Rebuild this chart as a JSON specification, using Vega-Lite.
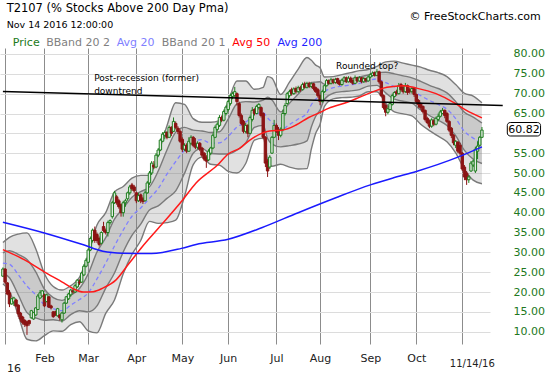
{
"$schema":"https://vega.github.io/schema/vega-lite/v6.json",
"width":490,"height":296,
"autosize":{"type":"none"},
"padding":{"left":0,"top":48,"right":60,"bottom":31},
"background":"white",
"config":{"font":"DejaVu Sans","view":{"stroke":null}},
"resolve":{"axis":{"x":"independent","y":"independent"}},
"datasets":{
"candles":[
{"i":0,"o":24.0,"h":26.2,"l":23.8,"c":25.8},{"i":1,"o":25.8,"h":26.0,"l":22.0,"c":22.5},{"i":2,"o":22.3,"h":22.5,"l":19.2,"c":19.5},{"i":3,"o":19.8,"h":20.5,"l":16.2,"c":17.0},{"i":4,"o":17.0,"h":18.5,"l":16.8,"c":18.3},{"i":5,"o":17.5,"h":18.8,"l":16.5,"c":18.5},{"i":6,"o":18.0,"h":18.3,"l":16.2,"c":16.5},{"i":7,"o":16.7,"h":16.9,"l":13.7,"c":14.5},{"i":8,"o":14.7,"h":15.0,"l":12.5,"c":13.2},{"i":9,"o":13.7,"h":14.0,"l":11.8,"c":12.3},
{"i":10,"o":12.8,"h":13.2,"l":11.2,"c":11.8},{"i":11,"o":12.5,"h":12.8,"l":9.2,"c":11.5},{"i":12,"o":12.8,"h":13.0,"l":11.5,"c":12.0},{"i":13,"o":13.5,"h":15.5,"l":13.3,"c":15.3},{"i":14,"o":13.2,"h":15.0,"l":13.0,"c":14.8},{"i":15,"o":14.2,"h":16.2,"l":14.0,"c":16.0},{"i":16,"o":15.6,"h":19.5,"l":15.5,"c":19.0},{"i":17,"o":18.5,"h":20.5,"l":18.3,"c":19.8},{"i":18,"o":19.0,"h":20.5,"l":18.8,"c":20.3},{"i":19,"o":19.3,"h":19.5,"l":16.2,"c":16.5},
{"i":20,"o":17.6,"h":19.6,"l":17.4,"c":19.3},{"i":21,"o":18.8,"h":19.0,"l":16.0,"c":16.2},{"i":22,"o":16.5,"h":16.8,"l":15.6,"c":16.0},{"i":23,"o":15.0,"h":15.2,"l":13.5,"c":13.8},{"i":24,"o":15.0,"h":15.3,"l":14.0,"c":14.2},{"i":25,"o":14.0,"h":16.0,"l":13.8,"c":15.8},{"i":26,"o":14.2,"h":14.5,"l":12.8,"c":13.5},{"i":27,"o":13.0,"h":15.0,"l":12.3,"c":14.7},{"i":28,"o":14.7,"h":17.5,"l":14.5,"c":17.2},{"i":29,"o":17.2,"h":19.0,"l":17.0,"c":18.8},
{"i":30,"o":18.3,"h":19.8,"l":18.0,"c":19.5},{"i":31,"o":19.3,"h":20.8,"l":18.8,"c":20.5},{"i":32,"o":20.3,"h":20.8,"l":19.6,"c":20.0},{"i":33,"o":20.0,"h":22.0,"l":19.8,"c":21.6},{"i":34,"o":21.3,"h":23.2,"l":21.0,"c":23.0},{"i":35,"o":22.5,"h":23.2,"l":21.8,"c":22.3},{"i":36,"o":22.5,"h":25.0,"l":22.3,"c":24.8},{"i":37,"o":24.3,"h":27.0,"l":24.0,"c":26.5},{"i":38,"o":26.5,"h":28.5,"l":26.2,"c":28.0},{"i":39,"o":27.5,"h":31.0,"l":27.3,"c":30.6},
{"i":40,"o":30.6,"h":34.0,"l":30.3,"c":33.5},{"i":41,"o":33.0,"h":36.0,"l":32.5,"c":35.6},{"i":42,"o":35.6,"h":36.5,"l":32.4,"c":33.0},{"i":43,"o":34.5,"h":35.0,"l":32.4,"c":33.0},{"i":44,"o":33.5,"h":34.0,"l":31.5,"c":32.0},{"i":45,"o":32.3,"h":35.3,"l":32.0,"c":35.0},{"i":46,"o":36.5,"h":37.7,"l":35.0,"c":35.5},{"i":47,"o":35.5,"h":36.0,"l":34.5,"c":35.0},{"i":48,"o":35.0,"h":38.0,"l":34.0,"c":37.5},{"i":49,"o":37.5,"h":38.3,"l":37.0,"c":38.0},
{"i":50,"o":39.0,"h":43.0,"l":38.5,"c":42.5},{"i":51,"o":42.5,"h":45.5,"l":42.2,"c":45.0},{"i":52,"o":44.0,"h":44.5,"l":42.0,"c":42.5},{"i":53,"o":43.0,"h":43.5,"l":41.0,"c":41.5},{"i":54,"o":42.0,"h":42.3,"l":39.0,"c":40.0},{"i":55,"o":40.0,"h":43.0,"l":39.0,"c":42.5},{"i":56,"o":42.5,"h":43.5,"l":41.5,"c":43.0},{"i":57,"o":43.5,"h":45.3,"l":43.0,"c":45.0},{"i":58,"o":45.0,"h":47.0,"l":44.5,"c":46.5},{"i":59,"o":47.0,"h":47.5,"l":45.5,"c":46.0},
{"i":60,"o":46.5,"h":47.0,"l":45.0,"c":45.5},{"i":61,"o":45.0,"h":45.3,"l":42.4,"c":43.0},{"i":62,"o":43.0,"h":45.0,"l":42.7,"c":44.3},{"i":63,"o":44.5,"h":44.8,"l":42.4,"c":43.0},{"i":64,"o":43.5,"h":44.0,"l":42.2,"c":42.8},{"i":65,"o":43.0,"h":45.5,"l":42.8,"c":45.0},{"i":66,"o":45.0,"h":48.0,"l":44.8,"c":47.5},{"i":67,"o":47.5,"h":50.5,"l":47.0,"c":50.0},{"i":68,"o":50.0,"h":53.0,"l":49.5,"c":52.5},{"i":69,"o":52.0,"h":53.0,"l":51.0,"c":51.5},
{"i":70,"o":51.5,"h":55.0,"l":51.2,"c":54.5},{"i":71,"o":54.5,"h":56.3,"l":54.0,"c":55.8},{"i":72,"o":55.8,"h":58.7,"l":55.5,"c":58.3},{"i":73,"o":58.0,"h":60.3,"l":57.8,"c":59.8},{"i":74,"o":59.5,"h":60.7,"l":58.5,"c":60.2},{"i":75,"o":60.2,"h":60.6,"l":58.5,"c":59.0},{"i":76,"o":59.0,"h":62.0,"l":58.8,"c":61.5},{"i":77,"o":61.5,"h":61.8,"l":59.3,"c":60.0},{"i":78,"o":60.5,"h":64.0,"l":60.3,"c":63.0},{"i":79,"o":62.5,"h":63.0,"l":61.0,"c":61.5},
{"i":80,"o":61.3,"h":61.8,"l":59.8,"c":60.5},{"i":81,"o":60.5,"h":61.0,"l":57.6,"c":58.0},{"i":82,"o":58.5,"h":59.0,"l":55.3,"c":56.0},{"i":83,"o":56.0,"h":57.5,"l":55.5,"c":57.0},{"i":84,"o":57.0,"h":57.5,"l":55.0,"c":55.5},{"i":85,"o":55.5,"h":59.0,"l":55.3,"c":58.0},{"i":86,"o":57.5,"h":59.5,"l":57.0,"c":59.0},{"i":87,"o":59.0,"h":59.3,"l":56.5,"c":57.0},{"i":88,"o":57.5,"h":58.8,"l":56.0,"c":56.5},{"i":89,"o":56.5,"h":58.0,"l":56.0,"c":57.5},
{"i":90,"o":57.5,"h":57.8,"l":55.5,"c":56.0},{"i":91,"o":56.3,"h":56.6,"l":54.0,"c":54.5},{"i":92,"o":55.0,"h":55.3,"l":53.0,"c":53.5},{"i":93,"o":54.0,"h":54.5,"l":51.3,"c":53.0},{"i":94,"o":53.3,"h":56.0,"l":53.0,"c":55.5},{"i":95,"o":55.0,"h":56.6,"l":54.5,"c":56.3},{"i":96,"o":56.3,"h":60.0,"l":56.0,"c":59.5},{"i":97,"o":59.0,"h":62.0,"l":58.8,"c":61.5},{"i":98,"o":61.0,"h":62.8,"l":60.5,"c":62.3},{"i":99,"o":62.0,"h":64.6,"l":61.6,"c":64.0},
{"i":100,"o":64.0,"h":64.5,"l":62.8,"c":63.3},{"i":101,"o":63.3,"h":66.0,"l":63.0,"c":65.5},{"i":102,"o":65.0,"h":67.0,"l":64.5,"c":66.6},{"i":103,"o":66.0,"h":68.4,"l":65.5,"c":68.0},{"i":104,"o":67.5,"h":70.0,"l":67.0,"c":69.5},{"i":105,"o":69.3,"h":70.5,"l":68.6,"c":70.0},{"i":106,"o":69.5,"h":71.7,"l":69.0,"c":70.5},{"i":107,"o":70.0,"h":70.3,"l":67.0,"c":68.0},{"i":108,"o":67.5,"h":68.0,"l":64.0,"c":64.5},{"i":109,"o":64.5,"h":65.0,"l":62.0,"c":62.5},
{"i":110,"o":63.0,"h":63.4,"l":60.0,"c":60.5},{"i":111,"o":60.5,"h":62.6,"l":60.0,"c":62.0},{"i":112,"o":62.0,"h":62.3,"l":59.0,"c":60.0},{"i":113,"o":60.0,"h":64.5,"l":59.8,"c":64.0},{"i":114,"o":63.5,"h":66.6,"l":63.0,"c":65.8},{"i":115,"o":66.0,"h":66.3,"l":64.5,"c":65.0},{"i":116,"o":65.0,"h":67.2,"l":64.8,"c":66.8},{"i":117,"o":66.5,"h":67.6,"l":66.0,"c":67.3},{"i":118,"o":66.5,"h":66.8,"l":64.0,"c":64.5},{"i":119,"o":65.0,"h":65.3,"l":58.5,"c":59.0},
{"i":120,"o":59.0,"h":59.3,"l":51.5,"c":52.5},{"i":121,"o":53.0,"h":53.5,"l":49.0,"c":50.5},{"i":122,"o":51.5,"h":54.5,"l":51.0,"c":54.0},{"i":123,"o":55.0,"h":59.3,"l":54.8,"c":59.0},{"i":124,"o":59.0,"h":63.4,"l":58.8,"c":62.0},{"i":125,"o":62.0,"h":62.5,"l":60.0,"c":60.5},{"i":126,"o":61.0,"h":61.6,"l":58.3,"c":59.5},{"i":127,"o":59.5,"h":61.5,"l":59.0,"c":61.0},{"i":128,"o":61.0,"h":66.0,"l":60.5,"c":65.0},{"i":129,"o":65.0,"h":67.6,"l":64.5,"c":67.0},
{"i":130,"o":67.5,"h":70.4,"l":67.2,"c":70.0},{"i":131,"o":69.5,"h":71.0,"l":69.0,"c":70.5},{"i":132,"o":71.0,"h":71.5,"l":69.5,"c":70.0},{"i":133,"o":70.0,"h":71.6,"l":69.7,"c":71.2},{"i":134,"o":71.3,"h":71.8,"l":70.0,"c":70.5},{"i":135,"o":70.5,"h":72.0,"l":70.2,"c":71.5},{"i":136,"o":71.5,"h":72.0,"l":70.5,"c":71.0},{"i":137,"o":71.0,"h":72.8,"l":70.8,"c":72.3},{"i":138,"o":72.5,"h":73.0,"l":71.3,"c":71.6},{"i":139,"o":71.6,"h":73.0,"l":71.3,"c":72.6},
{"i":140,"o":72.6,"h":73.0,"l":71.4,"c":71.8},{"i":141,"o":71.8,"h":72.8,"l":71.4,"c":72.5},{"i":142,"o":72.5,"h":72.7,"l":70.8,"c":71.3},{"i":143,"o":71.5,"h":71.8,"l":70.2,"c":70.5},{"i":144,"o":71.0,"h":71.4,"l":69.0,"c":69.5},{"i":145,"o":69.5,"h":70.0,"l":67.1,"c":68.0},{"i":146,"o":68.0,"h":71.0,"l":67.8,"c":70.5},{"i":147,"o":70.5,"h":72.3,"l":70.2,"c":72.0},{"i":148,"o":72.0,"h":73.7,"l":71.8,"c":73.3},{"i":149,"o":73.3,"h":73.6,"l":72.2,"c":72.6},
{"i":150,"o":72.6,"h":74.0,"l":72.3,"c":73.5},{"i":151,"o":73.5,"h":73.8,"l":72.4,"c":72.8},{"i":152,"o":72.8,"h":74.0,"l":72.5,"c":73.6},{"i":153,"o":73.8,"h":74.0,"l":72.4,"c":72.7},{"i":154,"o":73.0,"h":73.4,"l":72.0,"c":72.3},{"i":155,"o":72.3,"h":73.8,"l":72.0,"c":73.4},{"i":156,"o":73.2,"h":74.4,"l":72.9,"c":74.0},{"i":157,"o":74.0,"h":74.3,"l":72.7,"c":73.0},{"i":158,"o":73.0,"h":74.4,"l":72.8,"c":73.9},{"i":159,"o":73.9,"h":74.3,"l":72.7,"c":73.0},
{"i":160,"o":73.3,"h":73.6,"l":72.2,"c":72.6},{"i":161,"o":72.6,"h":74.6,"l":72.4,"c":74.0},{"i":162,"o":74.0,"h":74.2,"l":72.8,"c":73.2},{"i":163,"o":73.2,"h":74.4,"l":73.0,"c":74.0},{"i":164,"o":74.0,"h":74.2,"l":72.6,"c":73.0},{"i":165,"o":73.0,"h":74.2,"l":72.7,"c":73.8},{"i":166,"o":73.8,"h":74.0,"l":72.8,"c":73.2},{"i":167,"o":73.2,"h":74.5,"l":73.0,"c":74.2},{"i":168,"o":74.2,"h":75.2,"l":73.9,"c":74.8},{"i":169,"o":74.6,"h":75.6,"l":74.3,"c":75.2},
{"i":170,"o":75.3,"h":75.6,"l":74.3,"c":74.6},{"i":171,"o":74.6,"h":76.2,"l":74.4,"c":75.5},{"i":172,"o":75.5,"h":75.8,"l":72.5,"c":73.0},{"i":173,"o":73.0,"h":73.3,"l":69.2,"c":69.5},{"i":174,"o":69.5,"h":69.8,"l":66.0,"c":66.5},{"i":175,"o":67.0,"h":67.5,"l":64.3,"c":65.3},{"i":176,"o":65.3,"h":66.8,"l":64.8,"c":66.2},{"i":177,"o":66.0,"h":68.0,"l":65.8,"c":67.5},{"i":178,"o":67.3,"h":70.0,"l":67.0,"c":69.5},{"i":179,"o":69.3,"h":70.6,"l":69.0,"c":70.3},
{"i":180,"o":70.5,"h":71.0,"l":69.5,"c":70.0},{"i":181,"o":70.0,"h":72.7,"l":69.8,"c":72.0},{"i":182,"o":72.3,"h":72.7,"l":70.5,"c":71.0},{"i":183,"o":71.5,"h":72.0,"l":70.0,"c":70.5},{"i":184,"o":70.5,"h":72.7,"l":70.2,"c":72.0},{"i":185,"o":72.0,"h":72.3,"l":69.7,"c":70.3},{"i":186,"o":71.0,"h":71.5,"l":70.0,"c":70.5},{"i":187,"o":70.5,"h":71.7,"l":70.0,"c":71.3},{"i":188,"o":71.3,"h":71.5,"l":69.2,"c":69.8},{"i":189,"o":69.8,"h":70.0,"l":67.5,"c":68.0},
{"i":190,"o":68.3,"h":68.6,"l":66.5,"c":67.2},{"i":191,"o":67.5,"h":67.8,"l":66.0,"c":66.5},{"i":192,"o":66.8,"h":67.0,"l":65.0,"c":65.5},{"i":193,"o":65.8,"h":66.0,"l":63.0,"c":63.5},{"i":194,"o":63.8,"h":64.2,"l":62.3,"c":62.7},{"i":195,"o":63.0,"h":63.5,"l":61.3,"c":61.8},{"i":196,"o":61.8,"h":63.8,"l":61.4,"c":63.4},{"i":197,"o":63.2,"h":63.6,"l":61.8,"c":62.3},{"i":198,"o":62.3,"h":64.2,"l":62.0,"c":63.8},{"i":199,"o":63.5,"h":65.0,"l":63.0,"c":64.3},
{"i":200,"o":64.3,"h":65.9,"l":64.0,"c":65.4},{"i":201,"o":65.0,"h":66.4,"l":64.8,"c":65.8},{"i":202,"o":65.8,"h":66.0,"l":63.8,"c":64.5},{"i":203,"o":65.0,"h":65.4,"l":62.6,"c":63.0},{"i":204,"o":63.0,"h":63.3,"l":60.3,"c":60.8},{"i":205,"o":61.3,"h":61.6,"l":58.8,"c":59.5},{"i":206,"o":59.5,"h":59.8,"l":57.0,"c":57.6},{"i":207,"o":57.0,"h":58.3,"l":56.3,"c":58.0},{"i":208,"o":57.8,"h":58.0,"l":55.0,"c":55.5},{"i":209,"o":57.0,"h":57.6,"l":54.3,"c":55.0},
{"i":210,"o":55.0,"h":55.3,"l":50.5,"c":51.0},{"i":211,"o":51.5,"h":52.0,"l":48.2,"c":49.0},{"i":212,"o":50.0,"h":50.5,"l":47.0,"c":48.3},{"i":213,"o":48.3,"h":49.5,"l":47.5,"c":49.0},{"i":214,"o":50.5,"h":53.0,"l":50.3,"c":52.5},{"i":215,"o":52.0,"h":53.3,"l":51.5,"c":53.0},{"i":216,"o":50.5,"h":56.6,"l":50.0,"c":56.0},{"i":217,"o":55.5,"h":58.0,"l":53.5,"c":56.8},{"i":218,"o":57.0,"h":59.3,"l":56.6,"c":59.0},{"i":219,"o":59.0,"h":61.6,"l":58.8,"c":60.82}
],
"bands":[
{"i":0,"u2":32.5,"u1":29.9,"m":27.3,"l1":24.7,"l2":22.1},{"i":3,"u2":33.8,"u1":30.4,"m":27.0,"l1":23.6,"l2":20.2},{"i":7,"u2":34.6,"u1":29.5,"m":24.4,"l1":19.3,"l2":14.2},{"i":11,"u2":34.9,"u1":28.2,"m":21.5,"l1":14.8,"l2":8.1},{"i":15,"u2":30.9,"u1":25.1,"m":19.3,"l1":13.5,"l2":7.7},{"i":19,"u2":24.6,"u1":20.7,"m":16.8,"l1":12.9,"l2":9.0},{"i":23,"u2":21.4,"u1":18.6,"m":15.8,"l1":13.0,"l2":10.2},{"i":27,"u2":20.5,"u1":17.9,"m":15.3,"l1":12.7,"l2":10.1},{"i":31,"u2":21.6,"u1":19.2,"m":16.7,"l1":14.3,"l2":11.8},{"i":35,"u2":23.7,"u1":20.9,"m":18.1,"l1":15.3,"l2":12.5},
{"i":39,"u2":29.4,"u1":24.6,"m":19.8,"l1":15.0,"l2":10.2},{"i":43,"u2":36.9,"u1":30.1,"m":23.3,"l1":16.5,"l2":9.7},{"i":47,"u2":40.0,"u1":33.7,"m":27.3,"l1":21.0,"l2":14.6},{"i":51,"u2":45.2,"u1":38.4,"m":31.6,"l1":24.8,"l2":18.0},{"i":55,"u2":46.6,"u1":41.1,"m":35.6,"l1":30.1,"l2":24.6},{"i":59,"u2":48.7,"u1":43.9,"m":39.1,"l1":34.3,"l2":29.5},{"i":63,"u2":49.4,"u1":45.3,"m":41.2,"l1":37.1,"l2":33.0},{"i":67,"u2":49.4,"u1":46.5,"m":43.6,"l1":40.7,"l2":37.8},{"i":71,"u2":54.9,"u1":50.5,"m":46.1,"l1":41.7,"l2":37.3},{"i":75,"u2":61.9,"u1":55.8,"m":49.7,"l1":43.6,"l2":37.5},
{"i":79,"u2":67.7,"u1":60.3,"m":52.9,"l1":45.5,"l2":38.1},{"i":83,"u2":67.3,"u1":61.5,"m":55.7,"l1":49.9,"l2":44.1},{"i":87,"u2":63.7,"u1":60.8,"m":57.9,"l1":55.0,"l2":52.1},{"i":91,"u2":62.8,"u1":60.6,"m":58.4,"l1":56.2,"l2":54.0},{"i":95,"u2":62.8,"u1":60.2,"m":57.5,"l1":54.9,"l2":52.2},{"i":99,"u2":63.2,"u1":60.4,"m":57.6,"l1":54.8,"l2":52.0},{"i":103,"u2":68.0,"u1":63.6,"m":59.2,"l1":54.8,"l2":50.4},{"i":107,"u2":73.2,"u1":67.4,"m":61.6,"l1":55.8,"l2":50.0},{"i":111,"u2":73.2,"u1":68.0,"m":62.8,"l1":57.6,"l2":52.4},{"i":115,"u2":71.1,"u1":67.9,"m":64.7,"l1":61.5,"l2":58.3},
{"i":119,"u2":71.6,"u1":68.4,"m":65.2,"l1":62.0,"l2":58.8},{"i":121,"u2":74.3,"u1":69.1,"m":63.9,"l1":58.7,"l2":53.5},{"i":123,"u2":73.9,"u1":68.4,"m":62.8,"l1":57.3,"l2":51.7},{"i":127,"u2":69.8,"u1":65.4,"m":61.0,"l1":56.6,"l2":52.2},{"i":131,"u2":72.9,"u1":67.6,"m":62.2,"l1":56.9,"l2":51.5},{"i":135,"u2":76.2,"u1":69.9,"m":63.6,"l1":57.3,"l2":51.0},{"i":139,"u2":79.1,"u1":72.1,"m":65.1,"l1":58.1,"l2":51.1},{"i":141,"u2":78.4,"u1":72.8,"m":67.2,"l1":61.6,"l2":56.0},{"i":143,"u2":77.2,"u1":72.9,"m":68.6,"l1":64.3,"l2":60.0},{"i":145,"u2":76.5,"u1":73.0,"m":69.4,"l1":65.9,"l2":62.3},
{"i":147,"u2":74.2,"u1":72.4,"m":70.5,"l1":68.6,"l2":66.8},{"i":151,"u2":74.3,"u1":72.9,"m":71.5,"l1":70.1,"l2":68.7},{"i":155,"u2":74.8,"u1":73.4,"m":71.9,"l1":70.5,"l2":69.0},{"i":159,"u2":75.3,"u1":73.8,"m":72.2,"l1":70.7,"l2":69.1},{"i":163,"u2":75.8,"u1":74.2,"m":72.6,"l1":71.0,"l2":69.4},{"i":167,"u2":76.1,"u1":74.7,"m":73.3,"l1":71.9,"l2":70.5},{"i":171,"u2":76.9,"u1":75.3,"m":73.7,"l1":72.1,"l2":70.5},{"i":175,"u2":78.0,"u1":75.4,"m":72.8,"l1":70.2,"l2":67.6},{"i":179,"u2":78.2,"u1":75.0,"m":71.8,"l1":68.6,"l2":65.4},{"i":183,"u2":77.7,"u1":74.5,"m":71.3,"l1":68.1,"l2":64.9},
{"i":187,"u2":77.2,"u1":74.0,"m":70.8,"l1":67.6,"l2":64.4},{"i":191,"u2":76.7,"u1":73.1,"m":69.5,"l1":65.9,"l2":62.3},{"i":195,"u2":75.9,"u1":72.1,"m":68.3,"l1":64.5,"l2":60.7},{"i":199,"u2":75.3,"u1":71.3,"m":67.3,"l1":63.3,"l2":59.3},{"i":203,"u2":74.3,"u1":70.2,"m":66.1,"l1":62.0,"l2":57.9},{"i":207,"u2":72.3,"u1":68.0,"m":63.7,"l1":59.4,"l2":55.1},{"i":211,"u2":70.1,"u1":65.3,"m":60.5,"l1":55.7,"l2":50.9},{"i":215,"u2":69.4,"u1":64.1,"m":58.8,"l1":53.5,"l2":48.2},{"i":219,"u2":67.7,"u1":62.6,"m":57.5,"l1":52.4,"l2":47.3}
],
"ma50":[
{"i":0,"v":30.7},{"i":9.9,"v":28.1},{"i":18.9,"v":25.1},{"i":27.8,"v":22.3},{"i":32.3,"v":20.8},{"i":36.8,"v":20.0},{"i":41.3,"v":20.1},{"i":45.7,"v":21.0},{"i":51.6,"v":23.0},{"i":57.8,"v":27.3},{"i":63.7,"v":31.4},{"i":72.6,"v":37.0},{"i":81.6,"v":42.8},{"i":88.3,"v":47.5},{"i":98.1,"v":52.0},{"i":103,"v":54.8},{"i":108.4,"v":56.3},{"i":112.9,"v":58.3},{"i":118.3,"v":60.0},{"i":121.9,"v":60.6},{"i":127.7,"v":60.8},{"i":134,"v":62.1},{"i":139.8,"v":64.0},{"i":144.3,"v":65.1},{"i":148.8,"v":66.3},{"i":157.7,"v":67.9},{"i":163.5,"v":69.2},{"i":171.2,"v":70.9},{"i":175.6,"v":71.6},{"i":183.3,"v":72.0},{"i":189.1,"v":71.4},{"i":198,"v":70.0},{"i":207,"v":67.5},{"i":211.5,"v":65.9},{"i":219,"v":63.9}
],
"ma200":[
{"i":0,"v":37.6},{"i":18.9,"v":34.9},{"i":36.8,"v":31.9},{"i":45.7,"v":30.3},{"i":54.7,"v":29.8},{"i":68,"v":29.7},{"i":81.6,"v":31.0},{"i":88.3,"v":32.0},{"i":103,"v":33.3},{"i":118.3,"v":36.2},{"i":135,"v":40.0},{"i":151.9,"v":43.7},{"i":168,"v":47.0},{"i":178,"v":48.7},{"i":189,"v":50.4},{"i":208,"v":54.0},{"i":219,"v":56.6}
],
"trend":[{"i":0,"v":70.55},{"i":228.5,"v":67.0}],
"one":[{}]
},
"layer":[
{"data":{"name":"bands"},"mark":{"type":"area","color":"#808080","opacity":0.24,"interpolate":"monotone","clip":true},
"encoding":{
"x":{"field":"i","type":"quantitative","title":null,"scale":{"domain":[0.95,220.4],"nice":false,"zero":false},
"axis":{"title":null,"values":[1,19,39,61,82,103,125,145,168,189,210],"labelExpr":"datum.value==19?'Feb':datum.value==39?'Mar':datum.value==61?'Apr':datum.value==82?'May':datum.value==103?'Jun':datum.value==125?'Jul':datum.value==145?'Aug':datum.value==168?'Sep':datum.value==189?'Oct':''","grid":true,"gridColor":"#8c8c8c","gridWidth":1,"ticks":false,"domain":false,"labelFont":"DejaVu Sans","labelFontSize":11,"labelColor":"#222","labelPadding":8,"labelAngle":0,"labelOverlap":false,"labelFlush":false}},
"y":{"field":"l2","type":"quantitative","title":null,"scale":{"domain":[6.9,81.51],"nice":false,"zero":false},
"axis":{"title":null,"orient":"right","values":[10,15,20,25,30,35,40,45,50,55,60,65,70,75,80],"labelExpr":"datum.value==60?'':format(datum.value,'.2f')","grid":true,"gridColor":"#dcdcdc","ticks":false,"domain":false,"labelFont":"DejaVu Sans","labelFontSize":11,"labelColor":"#217821","labelPadding":23,"labelAlign":"left","labelBaseline":"middle","labelOverlap":false}},
"y2":{"field":"u2"}}},
{"data":{"name":"bands"},"mark":{"type":"area","color":"#808080","opacity":0.24,"interpolate":"monotone","clip":true},
"encoding":{"x":{"field":"i","type":"quantitative","scale":{"domain":[0.95,220.4],"nice":false,"zero":false},"axis":null},
"y":{"field":"l1","type":"quantitative","scale":{"domain":[6.9,81.51],"nice":false,"zero":false},"axis":null},"y2":{"field":"u1"}}},
{"data":{"name":"bands"},"transform":[{"fold":["u2","u1","l1","l2"],"as":["k","val"]}],
"mark":{"type":"line","color":"#7a7a7a","strokeWidth":1.4,"interpolate":"monotone","clip":true},
"encoding":{"x":{"field":"i","type":"quantitative","scale":{"domain":[0.95,220.4],"nice":false,"zero":false},"axis":null},
"y":{"field":"val","type":"quantitative","scale":{"domain":[6.9,81.51],"nice":false,"zero":false},"axis":null},"detail":{"field":"k"}}},
{"data":{"name":"bands"},"mark":{"type":"line","color":"#8080ff","strokeWidth":1.3,"strokeDash":[4,3],"interpolate":"monotone","clip":true},
"encoding":{"x":{"field":"i","type":"quantitative","scale":{"domain":[0.95,220.4],"nice":false,"zero":false},"axis":null},
"y":{"field":"m","type":"quantitative","scale":{"domain":[6.9,81.51],"nice":false,"zero":false},"axis":null}}},
{"data":{"name":"candles"},"mark":{"type":"rule","strokeWidth":1,"clip":true},
"encoding":{"x":{"field":"i","type":"quantitative","scale":{"domain":[0.95,220.4],"nice":false,"zero":false},"axis":null},
"y":{"field":"l","type":"quantitative","scale":{"domain":[6.9,81.51],"nice":false,"zero":false},"axis":null},"y2":{"field":"h"},
"color":{"condition":{"test":"datum.c >= datum.o","value":"#1e7d1e"},"value":"#8b1414"}}},
{"data":{"name":"candles"},"mark":{"type":"bar","size":2.4,"strokeWidth":1,"clip":true},
"encoding":{"x":{"field":"i","type":"quantitative","scale":{"domain":[0.95,220.4],"nice":false,"zero":false},"axis":null},
"y":{"field":"o","type":"quantitative","scale":{"domain":[6.9,81.51],"nice":false,"zero":false},"axis":null},"y2":{"field":"c"},
"fill":{"condition":{"test":"datum.c >= datum.o","value":"#e4ece4"},"value":"#8b1414"},
"stroke":{"condition":{"test":"datum.c >= datum.o","value":"#1e7d1e"},"value":"#8b1414"}}},
{"data":{"name":"ma50"},"mark":{"type":"line","color":"#ff1a1a","strokeWidth":1.5,"interpolate":"monotone","clip":true},
"encoding":{"x":{"field":"i","type":"quantitative","scale":{"domain":[0.95,220.4],"nice":false,"zero":false},"axis":null},
"y":{"field":"v","type":"quantitative","scale":{"domain":[6.9,81.51],"nice":false,"zero":false},"axis":null}}},
{"data":{"name":"ma200"},"mark":{"type":"line","color":"#1a1aff","strokeWidth":1.5,"interpolate":"monotone","clip":true},
"encoding":{"x":{"field":"i","type":"quantitative","scale":{"domain":[0.95,220.4],"nice":false,"zero":false},"axis":null},
"y":{"field":"v","type":"quantitative","scale":{"domain":[6.9,81.51],"nice":false,"zero":false},"axis":null}}},
{"data":{"name":"trend"},"mark":{"type":"line","color":"#000","strokeWidth":1.5},
"encoding":{"x":{"field":"i","type":"quantitative","scale":{"domain":[0.95,220.4],"nice":false,"zero":false},"axis":null},
"y":{"field":"v","type":"quantitative","scale":{"domain":[6.9,81.51],"nice":false,"zero":false},"axis":null}}},
{"data":{"name":"one"},"mark":{"type":"rect","fill":"white","stroke":"#000","strokeWidth":1,"cornerRadius":3},
"encoding":{"x":{"datum":230.6,"type":"quantitative","scale":{"domain":[0.95,220.4],"nice":false,"zero":false},"axis":null},"x2":{"datum":245.8},
"y":{"datum":62.73,"type":"quantitative","scale":{"domain":[6.9,81.51],"nice":false,"zero":false},"axis":null},"y2":{"datum":59.33}}},
{"data":{"name":"one"},"mark":{"type":"text","text":"60.82","align":"center","baseline":"middle","fontSize":11,"color":"#000"},
"encoding":{"x":{"datum":238.2,"type":"quantitative","scale":{"domain":[0.95,220.4],"nice":false,"zero":false},"axis":null},"y":{"datum":60.95,"type":"quantitative","scale":{"domain":[6.9,81.51],"nice":false,"zero":false},"axis":null}}},
{"data":{"name":"one"},"mark":{"type":"text","text":"T2107 (% Stocks Above 200 Day Pma)","align":"left","baseline":"middle","fontSize":11.5,"color":"#000"},
"encoding":{"x":{"datum":1.7,"type":"quantitative","scale":{"domain":[0.95,220.4],"nice":false,"zero":false},"axis":null},"y":{"datum":91.4,"type":"quantitative","scale":{"domain":[6.9,81.51],"nice":false,"zero":false},"axis":null}}},
{"data":{"name":"one"},"mark":{"type":"text","text":"Nov 14 2016 12:00:00","align":"left","baseline":"middle","fontSize":9.5,"color":"#000"},
"encoding":{"x":{"datum":1.7,"type":"quantitative","scale":{"domain":[0.95,220.4],"nice":false,"zero":false},"axis":null},"y":{"datum":87.3,"type":"quantitative","scale":{"domain":[6.9,81.51],"nice":false,"zero":false},"axis":null}}},
{"data":{"name":"one"},"mark":{"type":"text","text":"© FreeStockCharts.com","align":"right","baseline":"middle","fontSize":11,"color":"#000"},
"encoding":{"x":{"datum":245.9,"type":"quantitative","scale":{"domain":[0.95,220.4],"nice":false,"zero":false},"axis":null},"y":{"datum":89.33,"type":"quantitative","scale":{"domain":[6.9,81.51],"nice":false,"zero":false},"axis":null}}},
{"data":{"name":"one"},"mark":{"type":"text","text":"Price","align":"left","baseline":"middle","fontSize":11,"color":"#1a7a1a"},
"encoding":{"x":{"datum":4.53,"type":"quantitative","scale":{"domain":[0.95,220.4],"nice":false,"zero":false},"axis":null},"y":{"datum":82.77,"type":"quantitative","scale":{"domain":[6.9,81.51],"nice":false,"zero":false},"axis":null}}},
{"data":{"name":"one"},"mark":{"type":"text","text":"BBand 20 2","align":"left","baseline":"middle","fontSize":11,"color":"#7f7f7f"},
"encoding":{"x":{"datum":19.76,"type":"quantitative","scale":{"domain":[0.95,220.4],"nice":false,"zero":false},"axis":null},"y":{"datum":82.77,"type":"quantitative","scale":{"domain":[6.9,81.51],"nice":false,"zero":false},"axis":null}}},
{"data":{"name":"one"},"mark":{"type":"text","text":"Avg 20","align":"left","baseline":"middle","fontSize":11,"color":"#8080ff"},
"encoding":{"x":{"datum":52.0,"type":"quantitative","scale":{"domain":[0.95,220.4],"nice":false,"zero":false},"axis":null},"y":{"datum":82.77,"type":"quantitative","scale":{"domain":[6.9,81.51],"nice":false,"zero":false},"axis":null}}},
{"data":{"name":"one"},"mark":{"type":"text","text":"BBand 20 1","align":"left","baseline":"middle","fontSize":11,"color":"#7f7f7f"},
"encoding":{"x":{"datum":72.6,"type":"quantitative","scale":{"domain":[0.95,220.4],"nice":false,"zero":false},"axis":null},"y":{"datum":82.77,"type":"quantitative","scale":{"domain":[6.9,81.51],"nice":false,"zero":false},"axis":null}}},
{"data":{"name":"one"},"mark":{"type":"text","text":"Avg 50","align":"left","baseline":"middle","fontSize":11,"color":"#ff0000"},
"encoding":{"x":{"datum":104.9,"type":"quantitative","scale":{"domain":[0.95,220.4],"nice":false,"zero":false},"axis":null},"y":{"datum":82.77,"type":"quantitative","scale":{"domain":[6.9,81.51],"nice":false,"zero":false},"axis":null}}},
{"data":{"name":"one"},"mark":{"type":"text","text":"Avg 200","align":"left","baseline":"middle","fontSize":11,"color":"#1f1fff"},
"encoding":{"x":{"datum":125.5,"type":"quantitative","scale":{"domain":[0.95,220.4],"nice":false,"zero":false},"axis":null},"y":{"datum":82.77,"type":"quantitative","scale":{"domain":[6.9,81.51],"nice":false,"zero":false},"axis":null}}},
{"data":{"name":"one"},"mark":{"type":"text","text":"Post-recession (former)","align":"left","baseline":"middle","fontSize":9,"color":"#000"},
"encoding":{"x":{"datum":41.7,"type":"quantitative","scale":{"domain":[0.95,220.4],"nice":false,"zero":false},"axis":null},"y":{"datum":73.95,"type":"quantitative","scale":{"domain":[6.9,81.51],"nice":false,"zero":false},"axis":null}}},
{"data":{"name":"one"},"mark":{"type":"text","text":"downtrend","align":"left","baseline":"middle","fontSize":9,"color":"#000"},
"encoding":{"x":{"datum":41.7,"type":"quantitative","scale":{"domain":[0.95,220.4],"nice":false,"zero":false},"axis":null},"y":{"datum":70.67,"type":"quantitative","scale":{"domain":[6.9,81.51],"nice":false,"zero":false},"axis":null}}},
{"data":{"name":"one"},"mark":{"type":"text","text":"Rounded top?","align":"left","baseline":"middle","fontSize":9,"color":"#000"},
"encoding":{"x":{"datum":152.3,"type":"quantitative","scale":{"domain":[0.95,220.4],"nice":false,"zero":false},"axis":null},"y":{"datum":77.05,"type":"quantitative","scale":{"domain":[6.9,81.51],"nice":false,"zero":false},"axis":null}}},
{"data":{"name":"one"},"mark":{"type":"text","text":"16","align":"left","baseline":"middle","fontSize":11,"color":"#222"},
"encoding":{"x":{"datum":1.85,"type":"quantitative","scale":{"domain":[0.95,220.4],"nice":false,"zero":false},"axis":null},"y":{"datum":0.6,"type":"quantitative","scale":{"domain":[6.9,81.51],"nice":false,"zero":false},"axis":null}}},
{"data":{"name":"one"},"mark":{"type":"text","text":"11/14/16","align":"center","baseline":"middle","fontSize":10,"color":"#222"},
"encoding":{"x":{"datum":214.6,"type":"quantitative","scale":{"domain":[0.95,220.4],"nice":false,"zero":false},"axis":null},"y":{"datum":1.86,"type":"quantitative","scale":{"domain":[6.9,81.51],"nice":false,"zero":false},"axis":null}}}
]
}
